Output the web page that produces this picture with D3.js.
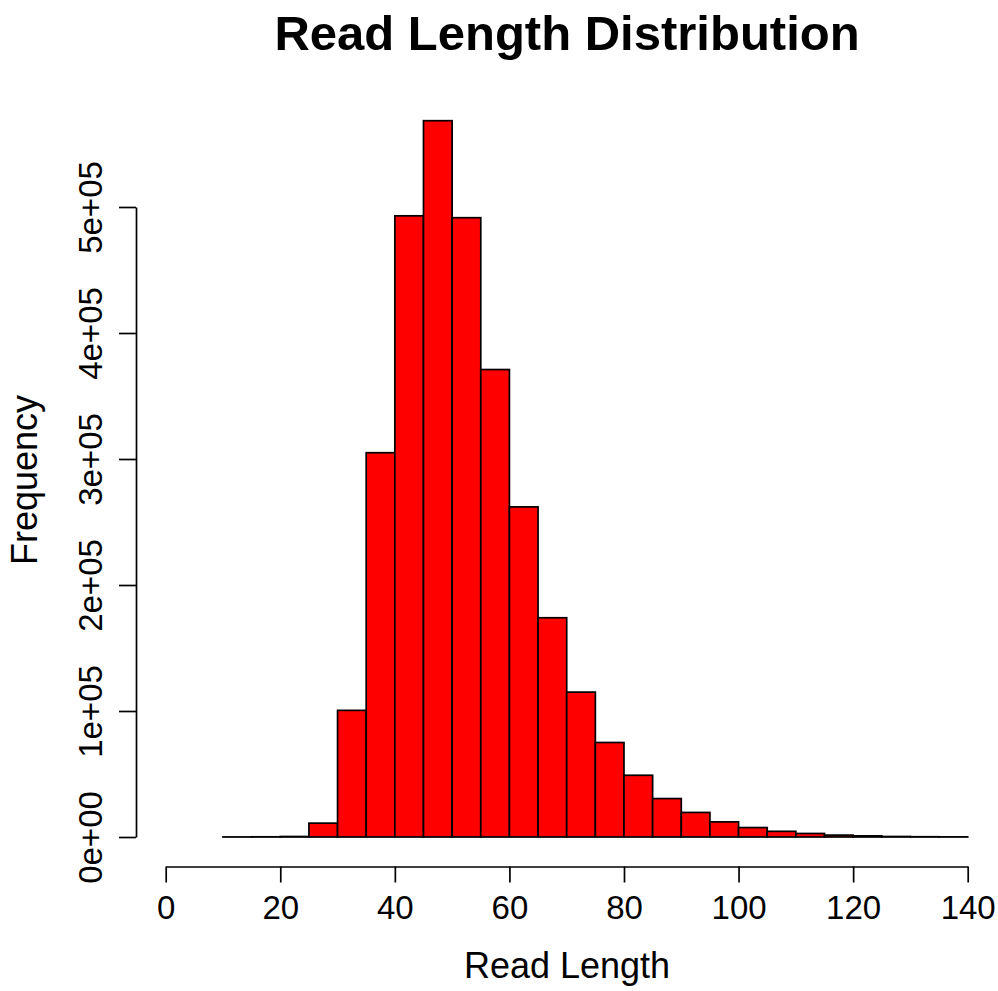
<!DOCTYPE html>
<html>
<head>
<meta charset="utf-8">
<script src="https://cdn.jsdelivr.net/npm/d3@7"></script>
<style>
  body { margin: 0; background: #fff; }
  text { font-family: "Liberation Sans", Arial, sans-serif; fill: #000; }
</style>
</head>
<body>
<div id="chart"></div>
<script>
// histogram bins (read length, width 5) and counts
var binStarts = [10, 15, 20, 25, 30, 35, 40, 45, 50, 55, 60, 65, 70,
                 75, 80, 85, 90, 95, 100, 105, 110, 115, 120, 125, 130, 135];
var binWidth = 5;
var counts = [50, 150, 400, 11000, 100500, 305000, 493000, 568500, 491500, 371000, 262000, 174000, 115000,
              75000, 49000, 30500, 19500, 12000, 7500, 4500, 2800, 1500, 900, 400, 200, 100];
var xTicks = [0, 20, 40, 60, 80, 100, 120, 140];
var yTicks = [0, 100000, 200000, 300000, 400000, 500000];
var yTickLabels = ["0e+00", "1e+05", "2e+05", "3e+05", "4e+05", "5e+05"];

var width = 998,
    height = 991;

var svg = d3.select("#chart")
            .append("svg")
              .attr("width", width)
              .attr("height", height);

var x = d3.scaleLinear()
          .domain([0, 140])
          .range([165.7, 967.7]);

var y = d3.scaleLinear()
          .domain([0, 500000])
          .range([837, 207]);

var bins = binStarts.map(function(d, i){ return {x0: d, x1: d + binWidth, n: counts[i]}; });

// bars
svg.selectAll("rect.bar")
    .data(bins)
    .enter()
    .append("rect")
      .attr("class", "bar")
      .attr("x", function(d) { return x(d.x0); })
      .attr("y", function(d) { return y(d.n); })
      .attr("width", function(d) { return x(d.x1) - x(d.x0); })
      .attr("height", function(d) { return y(0) - y(d.n); })
      .style("fill", "#ff0000")
      .style("stroke", "#000")
      .style("stroke-width", 1.7);

// x axis
var xAxis = d3.axisBottom(x)
    .tickValues(xTicks)
    .tickSize(16)
    .tickSizeOuter(0)
    .tickPadding(13);

var gx = svg.append("g")
    .attr("transform", "translate(0,866.5)")
    .call(xAxis);
gx.selectAll("path, line").style("stroke", "#000").style("stroke-width", 1.7);
gx.selectAll("text").style("font-size", "33px").attr("fill", "#000");

// y axis
var yAxis = d3.axisLeft(y)
    .tickValues(yTicks)
    .tickFormat(function(d, i){ return yTickLabels[i]; })
    .tickSize(17)
    .tickSizeOuter(0);

var gy = svg.append("g")
    .attr("transform", "translate(136,0)")
    .call(yAxis);
gy.selectAll("path, line").style("stroke", "#000").style("stroke-width", 1.7);
gy.selectAll("text")
    .style("font-size", "33px")
    .attr("fill", "#000")
    .attr("x", null)
    .attr("dy", null)
    .attr("text-anchor", "middle")
    .attr("transform", "translate(-34,0) rotate(-90)");

// titles
svg.append("text")
    .attr("x", 567)
    .attr("y", 50)
    .attr("text-anchor", "middle")
    .style("font-size", "49px")
    .style("font-weight", "bold")
    .text("Read Length Distribution");

svg.append("text")
    .attr("x", 567)
    .attr("y", 978)
    .attr("text-anchor", "middle")
    .style("font-size", "36px")
    .text("Read Length");

svg.append("text")
    .attr("transform", "translate(37,480) rotate(-90)")
    .attr("text-anchor", "middle")
    .style("font-size", "36px")
    .text("Frequency");
</script>
</body>
</html>
